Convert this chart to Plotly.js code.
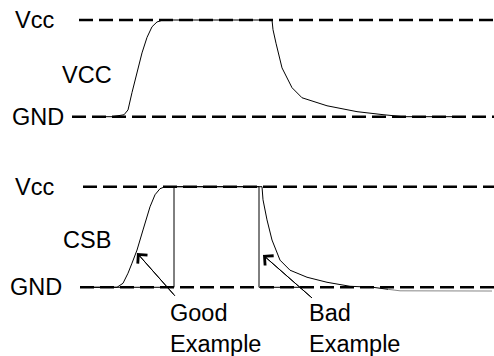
<!DOCTYPE html>
<html>
<head>
<meta charset="utf-8">
<script src="https://cdn.plot.ly/plotly-3.0.1.min.js"></script>
<style>html,body{margin:0;padding:0;background:#fff;}#chart{width:494px;height:356px;}</style>
</head>
<body>
<div id="chart"></div>
<script>
// Time axis (arbitrary units), voltage normalised: 0 = GND, 1 = Vcc
const vccT = [100, 112, 124, 128, 132, 137, 142, 147, 152, 157, 163, 272, 273, 276, 282, 292, 302, 327, 357, 383, 403, 457];
const vccV = [0, 0, 0.02, 0.07, 0.25, 0.45, 0.66, 0.82, 0.93, 0.98, 1, 1, 0.90, 0.76, 0.505, 0.30, 0.196, 0.113, 0.052, 0.021, 0, 0];

const csbT = [80, 117, 123, 128, 132, 137, 143, 150, 155, 160, 165, 262, 263, 267, 272, 280, 290, 307, 327, 350, 373, 388];
const csbV = [0, 0, 0.04, 0.14, 0.24, 0.37, 0.57, 0.80, 0.92, 0.98, 1, 1, 0.87, 0.67, 0.47, 0.27, 0.17, 0.10, 0.05, 0.01, 0, -0.02];

const tailT = [388, 400, 492];
const tailV = [-0.02, -0.035, -0.037];

const squareT = [80, 174, 174, 259, 259, 300];
const squareV = [0, 0, 1, 1, 0, 0];

const refTopVccT = [79, 494], refTopGndT = [72, 494];
const refBotVccT = [83, 494], refBotGndT = [80, 494];
const levelHigh = [1, 1], levelLow = [0, 0];

// Arrows: [tail, head]
const goodArrowT = [175, 137], goodArrowV = [-0.086, 0.341];
const badArrowT = [312, 263], badArrowV = [-0.106, 0.321];

const FONT = 'Liberation Sans, Arial, sans-serif';
const dashStyle = {color: '#000', width: 2.5, dash: '14px,6px'};
const sig = {color: '#000', width: 1};

const traces = [
  {x: refTopVccT, y: levelHigh, yaxis: 'y', mode: 'lines', line: dashStyle},
  {x: refTopGndT, y: levelLow, yaxis: 'y', mode: 'lines', line: dashStyle},
  {x: refBotVccT, y: levelHigh, yaxis: 'y2', mode: 'lines', line: dashStyle},
  {x: refBotGndT, y: levelLow, yaxis: 'y2', mode: 'lines', line: dashStyle},
  {x: vccT, y: vccV, yaxis: 'y', mode: 'lines', line: sig},
  {x: csbT, y: csbV, yaxis: 'y2', mode: 'lines', line: sig},
  {x: squareT, y: squareV, yaxis: 'y2', mode: 'lines', line: sig},
  {x: tailT, y: tailV, yaxis: 'y2', mode: 'lines', line: {color: '#888', width: 1}},
  {x: goodArrowT, y: goodArrowV, yaxis: 'y2', mode: 'lines', line: sig},
  {x: badArrowT, y: badArrowV, yaxis: 'y2', mode: 'lines', line: sig}
];

function label(text, x, y, yref) {
  return {text: text, x: x, y: y, xref: 'x', yref: yref, showarrow: false,
          xanchor: 'left', yanchor: 'middle', font: {family: FONT, size: 23.5, color: '#000'}};
}
function arrowHead(t, v) {
  return {text: '', x: t[1], y: v[1], ax: t[0], ay: v[0], xref: 'x', yref: 'y2', axref: 'x', ayref: 'y2',
          showarrow: true, arrowhead: 4, arrowsize: 2.5, arrowwidth: 1, arrowcolor: '#000'};
}

const layout = {
  width: 494, height: 356,
  margin: {l: 0, r: 0, t: 0, b: 0},
  paper_bgcolor: '#fff', plot_bgcolor: '#fff',
  showlegend: false, hovermode: false,
  xaxis: {range: [0, 494], visible: false, fixedrange: true},
  yaxis: {domain: [0.5, 1], range: [-0.634, 1.207], visible: false, fixedrange: true},
  yaxis2: {domain: [0, 0.5], range: [-0.683, 1.0865], visible: false, fixedrange: true},
  annotations: [
    label('Vcc', 13, 1, 'y'),
    label('VCC', 60, 0.43, 'y'),
    label('GND', 10, 0, 'y'),
    label('Vcc', 13, 1, 'y2'),
    label('CSB', 61, 0.47, 'y2'),
    label('GND', 8, 0, 'y2'),
    label('Good', 168, -0.255, 'y2'),
    label('Example', 168, -0.564, 'y2'),
    label('Bad', 307, -0.255, 'y2'),
    label('Example', 307, -0.564, 'y2'),
    arrowHead(goodArrowT, goodArrowV),
    arrowHead(badArrowT, badArrowV)
  ]
};

Plotly.newPlot('chart', traces, layout, {staticPlot: true, displayModeBar: false});
</script>
</body>
</html>
